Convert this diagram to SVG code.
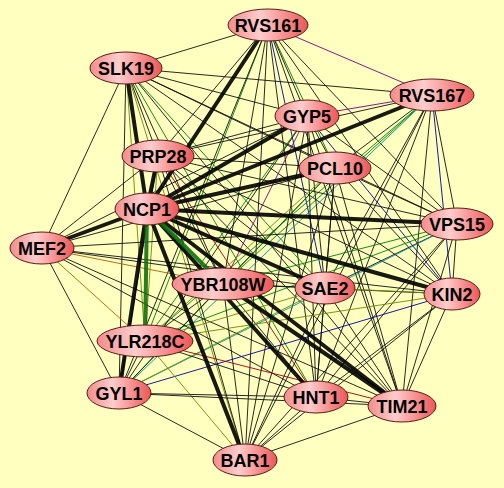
<svg xmlns="http://www.w3.org/2000/svg" width="504" height="488" viewBox="0 0 504 488">
<defs>
<linearGradient id="ng" x1="0" y1="0" x2="1" y2="0">
<stop offset="0" stop-color="#f28c8c"/>
<stop offset="0.4" stop-color="#ffcccc"/>
<stop offset="1" stop-color="#ee5656"/>
</linearGradient>
<style>
.node ellipse{fill:url(#ng);stroke:#5a1a1a;stroke-width:1}
.node text{font-family:"Liberation Sans",Arial,sans-serif;font-weight:bold;font-size:18px;fill:#000;text-anchor:middle}
#edges line{stroke:#111;stroke-width:1;stroke-opacity:0.9}
#edges line.t{stroke-width:4;stroke:#000}
#edges line.tg{stroke-width:4;stroke:#107010}
#edges line.g{stroke:#008000}
#edges line.o{stroke:#6b8a00}
#edges line.p{stroke:#800080}
#edges line.b{stroke:#0000a0}
#edges line.r{stroke:#a00000}
#edges line.c{stroke:#0090a0}
#edges line.n{stroke:#b06000}
</style>
</defs>
<rect width="504" height="488" fill="#ffffc0"/>
<g id="edges">
<line x1="268" y1="25" x2="126" y2="68"/>
<line class="p" x1="268" y1="25" x2="432" y2="95"/>
<line x1="268" y1="25" x2="307" y2="116"/>
<line x1="268" y1="25" x2="158" y2="156"/>
<line class="g" x1="268" y1="25" x2="335" y2="168"/>
<line x1="268" y1="25" x2="457" y2="224"/>
<line x1="268" y1="25" x2="223" y2="284"/>
<line class="b" x1="268" y1="25" x2="325" y2="288"/>
<line x1="268" y1="25" x2="452" y2="294"/>
<line class="g" x1="268" y1="25" x2="145" y2="341"/>
<line x1="268" y1="25" x2="119" y2="393"/>
<line x1="268" y1="25" x2="316" y2="397"/>
<line x1="268" y1="25" x2="402" y2="406"/>
<line x1="268" y1="25" x2="245" y2="460"/>
<line x1="126" y1="68" x2="432" y2="95"/>
<line x1="126" y1="68" x2="307" y2="116"/>
<line x1="126" y1="68" x2="158" y2="156"/>
<line x1="126" y1="68" x2="335" y2="168"/>
<line x1="126" y1="68" x2="457" y2="224"/>
<line x1="126" y1="68" x2="42" y2="248"/>
<line x1="126" y1="68" x2="223" y2="284"/>
<line class="g" x1="126" y1="68" x2="325" y2="288"/>
<line x1="126" y1="68" x2="452" y2="294"/>
<line class="o" x1="126" y1="68" x2="145" y2="341"/>
<line x1="126" y1="68" x2="119" y2="393"/>
<line class="g" x1="126" y1="68" x2="316" y2="397"/>
<line x1="126" y1="68" x2="402" y2="406"/>
<line class="o" x1="126" y1="68" x2="245" y2="460"/>
<line class="p" x1="432" y1="95" x2="307" y2="116"/>
<line x1="432" y1="95" x2="158" y2="156"/>
<line x1="432" y1="95" x2="335" y2="168"/>
<line x1="432" y1="95" x2="457" y2="224"/>
<line class="g" x1="432" y1="95" x2="223" y2="284"/>
<line x1="432" y1="95" x2="325" y2="288"/>
<line class="b" x1="432" y1="95" x2="452" y2="294"/>
<line class="g" x1="432" y1="95" x2="145" y2="341"/>
<line class="c" x1="432" y1="95" x2="119" y2="393"/>
<line x1="432" y1="95" x2="316" y2="397"/>
<line x1="432" y1="95" x2="402" y2="406"/>
<line x1="432" y1="95" x2="245" y2="460"/>
<line x1="307" y1="116" x2="158" y2="156"/>
<line x1="307" y1="116" x2="335" y2="168"/>
<line x1="307" y1="116" x2="457" y2="224"/>
<line x1="307" y1="116" x2="42" y2="248"/>
<line class="p" x1="307" y1="116" x2="223" y2="284"/>
<line x1="307" y1="116" x2="325" y2="288"/>
<line class="b" x1="307" y1="116" x2="452" y2="294"/>
<line class="g" x1="307" y1="116" x2="145" y2="341"/>
<line x1="307" y1="116" x2="119" y2="393"/>
<line x1="307" y1="116" x2="316" y2="397"/>
<line x1="307" y1="116" x2="402" y2="406"/>
<line x1="307" y1="116" x2="245" y2="460"/>
<line x1="158" y1="156" x2="335" y2="168"/>
<line x1="158" y1="156" x2="457" y2="224"/>
<line x1="158" y1="156" x2="42" y2="248"/>
<line x1="158" y1="156" x2="223" y2="284"/>
<line x1="158" y1="156" x2="325" y2="288"/>
<line x1="158" y1="156" x2="452" y2="294"/>
<line class="o" x1="158" y1="156" x2="145" y2="341"/>
<line x1="158" y1="156" x2="119" y2="393"/>
<line class="r" x1="158" y1="156" x2="316" y2="397"/>
<line x1="158" y1="156" x2="402" y2="406"/>
<line x1="158" y1="156" x2="245" y2="460"/>
<line x1="335" y1="168" x2="457" y2="224"/>
<line x1="335" y1="168" x2="42" y2="248"/>
<line x1="335" y1="168" x2="223" y2="284"/>
<line x1="335" y1="168" x2="325" y2="288"/>
<line x1="335" y1="168" x2="452" y2="294"/>
<line class="o" x1="335" y1="168" x2="145" y2="341"/>
<line class="g" x1="335" y1="168" x2="119" y2="393"/>
<line x1="335" y1="168" x2="316" y2="397"/>
<line x1="335" y1="168" x2="402" y2="406"/>
<line x1="335" y1="168" x2="245" y2="460"/>
<line x1="457" y1="224" x2="42" y2="248"/>
<line class="g" x1="457" y1="224" x2="223" y2="284"/>
<line x1="457" y1="224" x2="325" y2="288"/>
<line x1="457" y1="224" x2="452" y2="294"/>
<line class="g" x1="457" y1="224" x2="145" y2="341"/>
<line class="c" x1="457" y1="224" x2="119" y2="393"/>
<line x1="457" y1="224" x2="316" y2="397"/>
<line x1="457" y1="224" x2="402" y2="406"/>
<line x1="457" y1="224" x2="245" y2="460"/>
<line class="n" x1="42" y1="248" x2="223" y2="284"/>
<line x1="42" y1="248" x2="325" y2="288"/>
<line x1="42" y1="248" x2="452" y2="294"/>
<line class="n" x1="42" y1="248" x2="145" y2="341"/>
<line x1="42" y1="248" x2="119" y2="393"/>
<line x1="42" y1="248" x2="316" y2="397"/>
<line x1="42" y1="248" x2="402" y2="406"/>
<line x1="223" y1="284" x2="325" y2="288"/>
<line x1="223" y1="284" x2="452" y2="294"/>
<line x1="223" y1="284" x2="145" y2="341"/>
<line x1="223" y1="284" x2="119" y2="393"/>
<line x1="223" y1="284" x2="316" y2="397"/>
<line x1="223" y1="284" x2="245" y2="460"/>
<line class="o" x1="325" y1="288" x2="452" y2="294"/>
<line class="o" x1="325" y1="288" x2="145" y2="341"/>
<line class="o" x1="325" y1="288" x2="119" y2="393"/>
<line x1="325" y1="288" x2="316" y2="397"/>
<line x1="325" y1="288" x2="402" y2="406"/>
<line x1="325" y1="288" x2="245" y2="460"/>
<line class="o" x1="452" y1="294" x2="145" y2="341"/>
<line class="b" x1="452" y1="294" x2="119" y2="393"/>
<line x1="452" y1="294" x2="316" y2="397"/>
<line x1="452" y1="294" x2="402" y2="406"/>
<line x1="452" y1="294" x2="245" y2="460"/>
<line x1="145" y1="341" x2="119" y2="393"/>
<line x1="145" y1="341" x2="316" y2="397"/>
<line class="r" x1="145" y1="341" x2="402" y2="406"/>
<line class="o" x1="145" y1="341" x2="245" y2="460"/>
<line x1="119" y1="393" x2="316" y2="397"/>
<line x1="119" y1="393" x2="402" y2="406"/>
<line x1="119" y1="393" x2="245" y2="460"/>
<line x1="316" y1="397" x2="402" y2="406"/>
<line x1="316" y1="397" x2="245" y2="460"/>
<line x1="402" y1="406" x2="245" y2="460"/>
<line class="t" x1="147" y1="209" x2="268" y2="25"/>
<line class="t" x1="147" y1="209" x2="126" y2="68"/>
<line class="t" x1="147" y1="209" x2="432" y2="95"/>
<line class="t" x1="147" y1="209" x2="307" y2="116"/>
<line class="t" x1="147" y1="209" x2="158" y2="156"/>
<line class="t" x1="147" y1="209" x2="335" y2="168"/>
<line class="t" x1="147" y1="209" x2="457" y2="224"/>
<line class="t" x1="147" y1="209" x2="42" y2="248"/>
<line class="t" x1="147" y1="209" x2="325" y2="288"/>
<line class="t" x1="147" y1="209" x2="452" y2="294"/>
<line class="t" x1="147" y1="209" x2="119" y2="393"/>
<line class="t" x1="147" y1="209" x2="316" y2="397"/>
<line class="t" x1="147" y1="209" x2="402" y2="406"/>
<line class="t" x1="147" y1="209" x2="245" y2="460"/>
<line class="t" x1="223" y1="284" x2="402" y2="406"/>
<line class="tg" x1="147" y1="209" x2="223" y2="284"/>
<line class="tg" x1="147" y1="209" x2="145" y2="341"/>
</g>
<g id="n-RVS161" class="node"><ellipse cx="268" cy="25" rx="40" ry="16"/><text x="268" y="31.5">RVS161</text></g>
<g id="n-SLK19" class="node"><ellipse cx="126" cy="68" rx="36" ry="16"/><text x="126" y="74.5">SLK19</text></g>
<g id="n-RVS167" class="node"><ellipse cx="432" cy="95" rx="42" ry="16"/><text x="432" y="101.5">RVS167</text></g>
<g id="n-GYP5" class="node"><ellipse cx="307" cy="116" rx="32" ry="16"/><text x="307" y="122.5">GYP5</text></g>
<g id="n-PRP28" class="node"><ellipse cx="158" cy="156" rx="36" ry="16"/><text x="158" y="162.5">PRP28</text></g>
<g id="n-PCL10" class="node"><ellipse cx="335" cy="168" rx="36" ry="16"/><text x="335" y="174.5">PCL10</text></g>
<g id="n-NCP1" class="node"><ellipse cx="147" cy="209" rx="32" ry="16"/><text x="147" y="215.5">NCP1</text></g>
<g id="n-VPS15" class="node"><ellipse cx="457" cy="224" rx="36" ry="16"/><text x="457" y="230.5">VPS15</text></g>
<g id="n-MEF2" class="node"><ellipse cx="42" cy="248" rx="32" ry="16"/><text x="42" y="254.5">MEF2</text></g>
<g id="n-YBR108W" class="node"><ellipse cx="223" cy="284" rx="51" ry="16"/><text x="223" y="290.5">YBR108W</text></g>
<g id="n-SAE2" class="node"><ellipse cx="325" cy="288" rx="30" ry="16"/><text x="325" y="294.5">SAE2</text></g>
<g id="n-KIN2" class="node"><ellipse cx="452" cy="294" rx="28" ry="16"/><text x="452" y="300.5">KIN2</text></g>
<g id="n-YLR218C" class="node"><ellipse cx="145" cy="341" rx="48" ry="16"/><text x="145" y="347.5">YLR218C</text></g>
<g id="n-GYL1" class="node"><ellipse cx="119" cy="393" rx="32" ry="16"/><text x="119" y="399.5">GYL1</text></g>
<g id="n-HNT1" class="node"><ellipse cx="316" cy="397" rx="32" ry="16"/><text x="316" y="403.5">HNT1</text></g>
<g id="n-TIM21" class="node"><ellipse cx="402" cy="406" rx="34" ry="16"/><text x="402" y="412.5">TIM21</text></g>
<g id="n-BAR1" class="node"><ellipse cx="245" cy="460" rx="32" ry="16"/><text x="245" y="466.5">BAR1</text></g>
</svg>
